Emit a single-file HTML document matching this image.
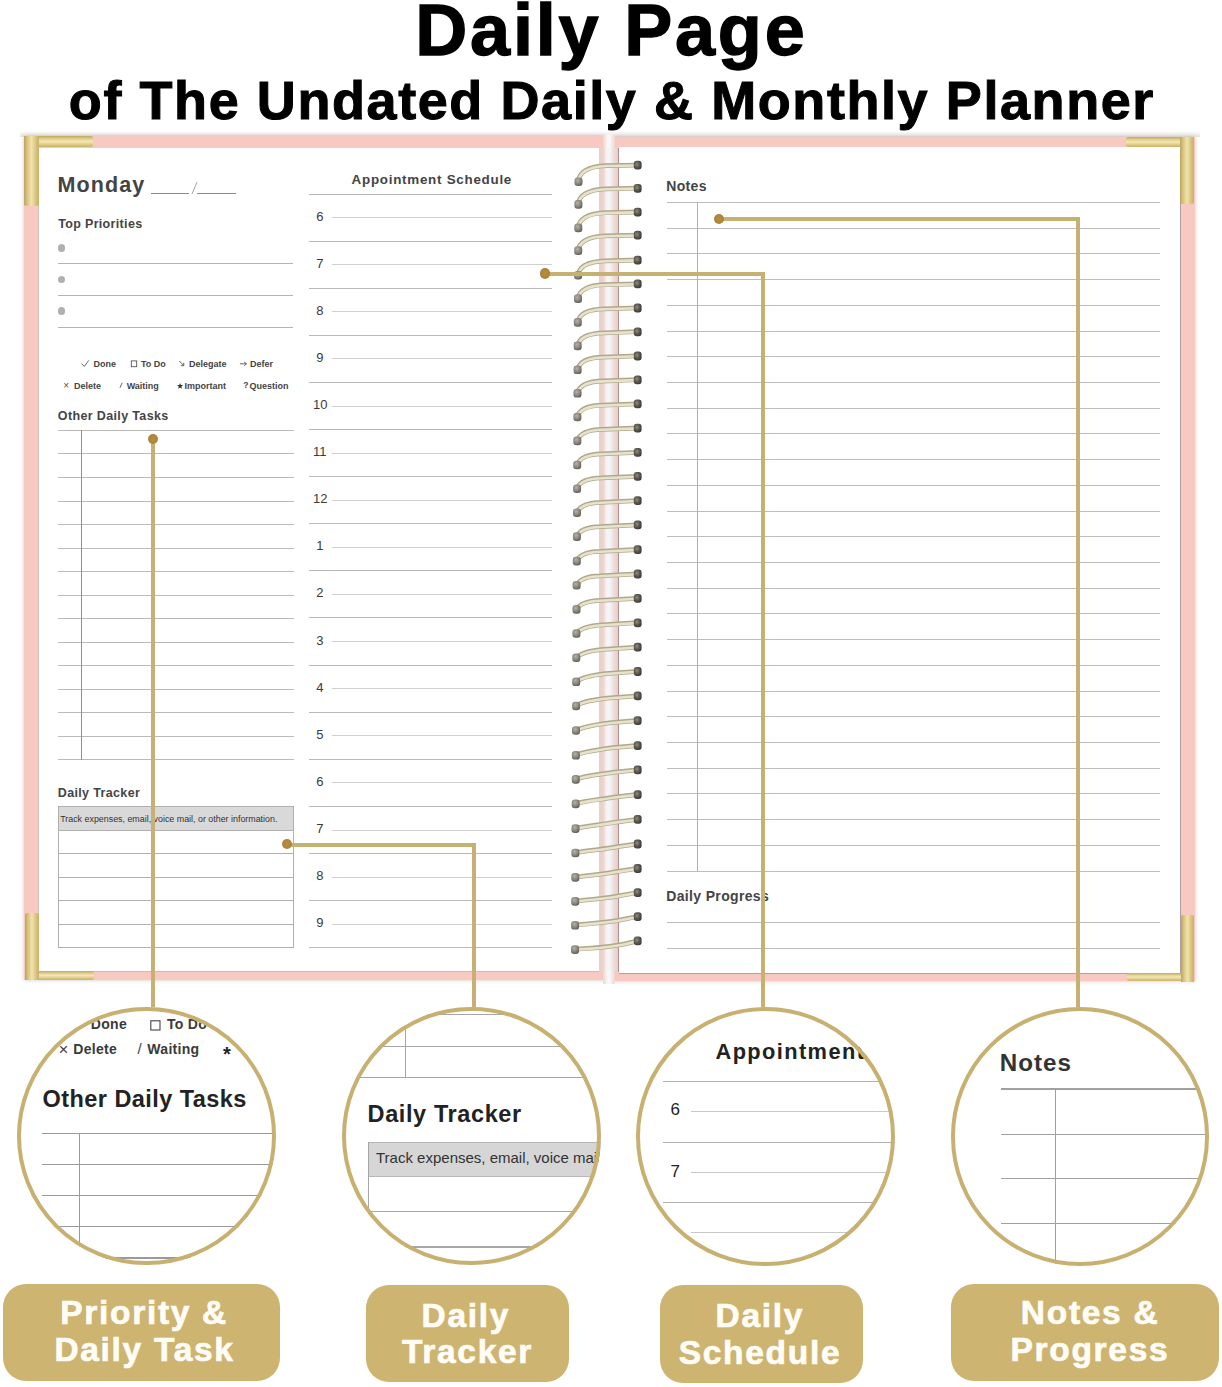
<!DOCTYPE html>
<html><head><meta charset="utf-8">
<style>
html,body{margin:0;padding:0;}
body{width:1222px;height:1387px;position:relative;overflow:hidden;background:#fff;font-family:"Liberation Sans",sans-serif;}
.t{position:absolute;white-space:nowrap;line-height:1.117;}
.r{position:absolute;}
.circ{position:absolute;border-radius:50%;overflow:hidden;background:#fff;box-sizing:border-box;}
.circ .in{position:absolute;left:0;top:0;width:100%;height:100%;}

</style></head><body>
<div class="t" style="left:11.40px;width:1200px;text-align:center;top:-9.66px;font-size:72px;font-weight:bold;color:#000;letter-spacing:2.8px;-webkit-text-stroke:1.3px #000;">Daily Page</div>
<div class="t" style="left:0.90px;width:1222px;text-align:center;top:69.73px;font-size:54px;font-weight:bold;color:#000;letter-spacing:1.58px;-webkit-text-stroke:1px #000;">of The Undated Daily &amp; Monthly Planner</div>
<div class="r" style="left:20.00px;top:131.00px;width:1180.00px;height:6.00px;background:linear-gradient(rgba(230,220,215,0),rgba(215,200,195,0.55));"></div>
<div class="r" style="left:24.00px;top:136.30px;width:580.00px;height:843.70px;background:#f7c9c1;box-shadow:0 0 4px rgba(110,100,90,0.35);"></div>
<div class="r" style="left:613.50px;top:136.80px;width:581.00px;height:844.60px;background:#f7c9c1;box-shadow:0 0 4px rgba(110,100,90,0.35);"></div>
<div class="r" style="left:38.80px;top:147.50px;width:560.50px;height:823.30px;background:#fff;box-shadow:-1px 0 0 #d6c2bc, 0 1px 0 #d0bcb6;"></div>
<div class="r" style="left:619.00px;top:147.20px;width:561.30px;height:825.40px;background:#fff;box-shadow:1px 0 0 #ad9f9a, 0 1px 0 #b0a29d;"></div>
<div class="r" style="left:599.30px;top:147.50px;width:19.20px;height:823.50px;background:linear-gradient(90deg,#e8d0cc 0%,#ecd3ce 22%,#f7f4f4 40%,#f2f5fa 58%,#f0dcd8 78%,#e9ccc8 100%);"></div>
<div class="r" style="left:618.20px;top:147.50px;width:1.00px;height:824.50px;background:#ae908d;"></div>
<div class="r" style="left:603.00px;top:135.00px;width:11.50px;height:12.50px;background:linear-gradient(90deg,#f3d3cc,#fafafa 40%,#f4f6fa 60%,#f3d3cc);"></div>
<div class="r" style="left:603.00px;top:971.00px;width:11.50px;height:13.00px;background:linear-gradient(90deg,#f3d3cc,#fafafa 40%,#f4f6fa 60%,#f3d3cc);"></div>
<div class="t" style="left:57.60px;top:172.84px;font-size:21.5px;font-weight:bold;color:#444;letter-spacing:1.1px;">Monday</div>
<div class="r" style="left:150.60px;top:193.10px;width:38.40px;height:1.00px;background:#8a8a8a;"></div>
<div class="r" style="left:197.40px;top:193.10px;width:38.30px;height:1.00px;background:#8a8a8a;"></div>
<svg class="r" style="left:0;top:0" width="1222" height="400"><line x1="192" y1="194" x2="197" y2="182" stroke="#999" stroke-width="0.9"/></svg>
<div class="t" style="left:58.20px;top:217.69px;font-size:12.5px;font-weight:bold;color:#444;letter-spacing:0.33px;">Top Priorities</div>
<div class="r" style="left:57.50px;top:244.10px;width:7.6px;height:7.6px;border-radius:50%;background:#b0b0b0"></div>
<div class="r" style="left:57.50px;top:275.60px;width:7.6px;height:7.6px;border-radius:50%;background:#b0b0b0"></div>
<div class="r" style="left:57.50px;top:307.20px;width:7.6px;height:7.6px;border-radius:50%;background:#b0b0b0"></div>
<div class="r" style="left:58.00px;top:263.10px;width:235.00px;height:1.00px;background:#b4b4b4;"></div>
<div class="r" style="left:58.00px;top:294.60px;width:235.00px;height:1.00px;background:#b4b4b4;"></div>
<div class="r" style="left:58.00px;top:326.50px;width:235.00px;height:1.00px;background:#b4b4b4;"></div>
<div class="t" style="left:93.40px;top:359.06px;font-size:9px;font-weight:bold;color:#444;">Done</div>
<div class="t" style="left:141.00px;top:359.06px;font-size:9px;font-weight:bold;color:#444;">To Do</div>
<div class="t" style="left:189.00px;top:359.06px;font-size:9px;font-weight:bold;color:#444;">Delegate</div>
<div class="t" style="left:250.00px;top:359.06px;font-size:9px;font-weight:bold;color:#444;">Defer</div>
<div class="t" style="left:74.00px;top:380.56px;font-size:9px;font-weight:bold;color:#444;">Delete</div>
<div class="t" style="left:126.70px;top:380.56px;font-size:9px;font-weight:bold;color:#444;">Waiting</div>
<div class="t" style="left:184.60px;top:380.56px;font-size:9px;font-weight:bold;color:#444;">Important</div>
<div class="t" style="left:249.50px;top:380.56px;font-size:9px;font-weight:bold;color:#444;">Question</div>
<div class="t" style="left:63.20px;top:379.65px;font-size:10px;font-weight:normal;color:#555;">&#215;</div>
<div class="t" style="left:243.30px;top:380.91px;font-size:8.5px;font-weight:bold;color:#444;">?</div>
<svg class="r" style="left:0;top:0" width="320" height="400" fill="none" stroke="#555" stroke-width="0.9"><polyline points="81.6,363.6 84.3,366.4 88.8,360.4"/><rect x="131.3" y="360.9" width="5.4" height="5.8"/><line x1="179.3" y1="361" x2="183.6" y2="365.5"/><polyline points="180.9,365.6 183.8,365.7 183.7,362.8"/><line x1="240" y1="363.8" x2="246.3" y2="363.8"/><polyline points="244.2,361.9 246.5,363.8 244.2,365.7"/><line x1="120" y1="387.8" x2="122.2" y2="382.6"/><polygon points="180.1,382.9 180.9,385.1 183.2,385.1 181.4,386.5 182.1,388.7 180.1,387.4 178.1,388.7 178.8,386.5 177,385.1 179.3,385.1" fill="#333" stroke="none"/></svg>
<div class="t" style="left:57.80px;top:410.09px;font-size:12.5px;font-weight:bold;color:#444;letter-spacing:0.36px;">Other Daily Tasks</div>
<div class="r" style="left:57.60px;top:429.90px;width:236.20px;height:1.00px;background:#bababa;"></div>
<div class="r" style="left:57.60px;top:453.44px;width:236.20px;height:1.00px;background:#bababa;"></div>
<div class="r" style="left:57.60px;top:476.98px;width:236.20px;height:1.00px;background:#bababa;"></div>
<div class="r" style="left:57.60px;top:500.52px;width:236.20px;height:1.00px;background:#bababa;"></div>
<div class="r" style="left:57.60px;top:524.06px;width:236.20px;height:1.00px;background:#bababa;"></div>
<div class="r" style="left:57.60px;top:547.60px;width:236.20px;height:1.00px;background:#bababa;"></div>
<div class="r" style="left:57.60px;top:571.14px;width:236.20px;height:1.00px;background:#bababa;"></div>
<div class="r" style="left:57.60px;top:594.68px;width:236.20px;height:1.00px;background:#bababa;"></div>
<div class="r" style="left:57.60px;top:618.22px;width:236.20px;height:1.00px;background:#bababa;"></div>
<div class="r" style="left:57.60px;top:641.76px;width:236.20px;height:1.00px;background:#bababa;"></div>
<div class="r" style="left:57.60px;top:665.30px;width:236.20px;height:1.00px;background:#bababa;"></div>
<div class="r" style="left:57.60px;top:688.84px;width:236.20px;height:1.00px;background:#bababa;"></div>
<div class="r" style="left:57.60px;top:712.38px;width:236.20px;height:1.00px;background:#bababa;"></div>
<div class="r" style="left:57.60px;top:735.92px;width:236.20px;height:1.00px;background:#bababa;"></div>
<div class="r" style="left:57.60px;top:759.46px;width:236.20px;height:1.00px;background:#bababa;"></div>
<div class="r" style="left:81.00px;top:430.40px;width:1.00px;height:329.60px;background:#8e8e8e;"></div>
<div class="t" style="left:57.80px;top:786.69px;font-size:12.5px;font-weight:bold;color:#444;letter-spacing:0.35px;">Daily Tracker</div>
<div class="r" style="left:57.60px;top:806.30px;width:236.20px;height:141.40px;background:#fff;box-sizing:border-box;border:1px solid #b0b0b0;"></div>
<div class="r" style="left:58.60px;top:807.30px;width:234.20px;height:22.90px;background:#d9d9d9;"></div>
<div class="r" style="left:57.60px;top:829.70px;width:236.20px;height:1.00px;background:#b0b0b0;"></div>
<div class="r" style="left:57.60px;top:853.00px;width:236.20px;height:1.00px;background:#b0b0b0;"></div>
<div class="r" style="left:57.60px;top:876.80px;width:236.20px;height:1.00px;background:#b0b0b0;"></div>
<div class="r" style="left:57.60px;top:900.10px;width:236.20px;height:1.00px;background:#b0b0b0;"></div>
<div class="r" style="left:57.60px;top:923.90px;width:236.20px;height:1.00px;background:#b0b0b0;"></div>
<div class="t" style="left:60.20px;top:815.25px;font-size:8.9px;font-weight:normal;color:#333;">Track expenses, email, voice mail, or other information.</div>
<div class="t" style="left:351.60px;top:172.97px;font-size:13.4px;font-weight:bold;color:#444;letter-spacing:0.73px;">Appointment Schedule</div>
<div class="r" style="left:308.50px;top:193.50px;width:243.50px;height:1.00px;background:#b8b8b8;"></div>
<div class="t" style="left:316.30px;top:209.54px;font-size:13px;font-weight:normal;color:#3a3a3a;">6</div>
<div class="r" style="left:332.00px;top:217.10px;width:220.00px;height:1.00px;background:#d0d0d0;"></div>
<div class="r" style="left:308.50px;top:240.61px;width:243.50px;height:1.00px;background:#bababa;"></div>
<div class="t" style="left:316.30px;top:256.65px;font-size:13px;font-weight:normal;color:#3a3a3a;">7</div>
<div class="r" style="left:332.00px;top:264.21px;width:220.00px;height:1.00px;background:#d0d0d0;"></div>
<div class="r" style="left:308.50px;top:287.72px;width:243.50px;height:1.00px;background:#bababa;"></div>
<div class="t" style="left:316.30px;top:303.76px;font-size:13px;font-weight:normal;color:#3a3a3a;">8</div>
<div class="r" style="left:332.00px;top:311.32px;width:220.00px;height:1.00px;background:#d0d0d0;"></div>
<div class="r" style="left:308.50px;top:334.83px;width:243.50px;height:1.00px;background:#bababa;"></div>
<div class="t" style="left:316.30px;top:350.87px;font-size:13px;font-weight:normal;color:#3a3a3a;">9</div>
<div class="r" style="left:332.00px;top:358.43px;width:220.00px;height:1.00px;background:#d0d0d0;"></div>
<div class="r" style="left:308.50px;top:381.94px;width:243.50px;height:1.00px;background:#bababa;"></div>
<div class="t" style="left:313.00px;top:397.98px;font-size:13px;font-weight:normal;color:#3a3a3a;">10</div>
<div class="r" style="left:332.00px;top:405.54px;width:220.00px;height:1.00px;background:#d0d0d0;"></div>
<div class="r" style="left:308.50px;top:429.05px;width:243.50px;height:1.00px;background:#bababa;"></div>
<div class="t" style="left:313.00px;top:445.09px;font-size:13px;font-weight:normal;color:#3a3a3a;">11</div>
<div class="r" style="left:332.00px;top:452.65px;width:220.00px;height:1.00px;background:#d0d0d0;"></div>
<div class="r" style="left:308.50px;top:476.16px;width:243.50px;height:1.00px;background:#bababa;"></div>
<div class="t" style="left:313.00px;top:492.19px;font-size:13px;font-weight:normal;color:#3a3a3a;">12</div>
<div class="r" style="left:332.00px;top:499.76px;width:220.00px;height:1.00px;background:#d0d0d0;"></div>
<div class="r" style="left:308.50px;top:523.27px;width:243.50px;height:1.00px;background:#bababa;"></div>
<div class="t" style="left:316.30px;top:539.30px;font-size:13px;font-weight:normal;color:#3a3a3a;">1</div>
<div class="r" style="left:332.00px;top:546.87px;width:220.00px;height:1.00px;background:#d0d0d0;"></div>
<div class="r" style="left:308.50px;top:570.38px;width:243.50px;height:1.00px;background:#bababa;"></div>
<div class="t" style="left:316.30px;top:586.41px;font-size:13px;font-weight:normal;color:#3a3a3a;">2</div>
<div class="r" style="left:332.00px;top:593.98px;width:220.00px;height:1.00px;background:#d0d0d0;"></div>
<div class="r" style="left:308.50px;top:617.49px;width:243.50px;height:1.00px;background:#bababa;"></div>
<div class="t" style="left:316.30px;top:633.52px;font-size:13px;font-weight:normal;color:#3a3a3a;">3</div>
<div class="r" style="left:332.00px;top:641.09px;width:220.00px;height:1.00px;background:#d0d0d0;"></div>
<div class="r" style="left:308.50px;top:664.60px;width:243.50px;height:1.00px;background:#bababa;"></div>
<div class="t" style="left:316.30px;top:680.63px;font-size:13px;font-weight:normal;color:#3a3a3a;">4</div>
<div class="r" style="left:332.00px;top:688.20px;width:220.00px;height:1.00px;background:#d0d0d0;"></div>
<div class="r" style="left:308.50px;top:711.71px;width:243.50px;height:1.00px;background:#bababa;"></div>
<div class="t" style="left:316.30px;top:727.75px;font-size:13px;font-weight:normal;color:#3a3a3a;">5</div>
<div class="r" style="left:332.00px;top:735.31px;width:220.00px;height:1.00px;background:#d0d0d0;"></div>
<div class="r" style="left:308.50px;top:758.82px;width:243.50px;height:1.00px;background:#bababa;"></div>
<div class="t" style="left:316.30px;top:774.85px;font-size:13px;font-weight:normal;color:#3a3a3a;">6</div>
<div class="r" style="left:332.00px;top:782.42px;width:220.00px;height:1.00px;background:#d0d0d0;"></div>
<div class="r" style="left:308.50px;top:805.93px;width:243.50px;height:1.00px;background:#bababa;"></div>
<div class="t" style="left:316.30px;top:821.96px;font-size:13px;font-weight:normal;color:#3a3a3a;">7</div>
<div class="r" style="left:332.00px;top:829.53px;width:220.00px;height:1.00px;background:#d0d0d0;"></div>
<div class="r" style="left:308.50px;top:853.04px;width:243.50px;height:1.00px;background:#bababa;"></div>
<div class="t" style="left:316.30px;top:869.07px;font-size:13px;font-weight:normal;color:#3a3a3a;">8</div>
<div class="r" style="left:332.00px;top:876.64px;width:220.00px;height:1.00px;background:#d0d0d0;"></div>
<div class="r" style="left:308.50px;top:900.15px;width:243.50px;height:1.00px;background:#bababa;"></div>
<div class="t" style="left:316.30px;top:916.18px;font-size:13px;font-weight:normal;color:#3a3a3a;">9</div>
<div class="r" style="left:332.00px;top:923.75px;width:220.00px;height:1.00px;background:#d0d0d0;"></div>
<div class="r" style="left:308.50px;top:947.26px;width:243.50px;height:1.00px;background:#bababa;"></div>
<div class="t" style="left:666.20px;top:179.43px;font-size:14px;font-weight:bold;color:#444;letter-spacing:0.35px;">Notes</div>
<div class="r" style="left:666.70px;top:201.90px;width:493.30px;height:1.00px;background:#bdbdbd;"></div>
<div class="r" style="left:666.70px;top:227.62px;width:493.30px;height:1.00px;background:#bdbdbd;"></div>
<div class="r" style="left:666.70px;top:253.34px;width:493.30px;height:1.00px;background:#bdbdbd;"></div>
<div class="r" style="left:666.70px;top:279.06px;width:493.30px;height:1.00px;background:#bdbdbd;"></div>
<div class="r" style="left:666.70px;top:304.78px;width:493.30px;height:1.00px;background:#bdbdbd;"></div>
<div class="r" style="left:666.70px;top:330.50px;width:493.30px;height:1.00px;background:#bdbdbd;"></div>
<div class="r" style="left:666.70px;top:356.22px;width:493.30px;height:1.00px;background:#bdbdbd;"></div>
<div class="r" style="left:666.70px;top:381.94px;width:493.30px;height:1.00px;background:#bdbdbd;"></div>
<div class="r" style="left:666.70px;top:407.66px;width:493.30px;height:1.00px;background:#bdbdbd;"></div>
<div class="r" style="left:666.70px;top:433.38px;width:493.30px;height:1.00px;background:#bdbdbd;"></div>
<div class="r" style="left:666.70px;top:459.10px;width:493.30px;height:1.00px;background:#bdbdbd;"></div>
<div class="r" style="left:666.70px;top:484.82px;width:493.30px;height:1.00px;background:#bdbdbd;"></div>
<div class="r" style="left:666.70px;top:510.54px;width:493.30px;height:1.00px;background:#bdbdbd;"></div>
<div class="r" style="left:666.70px;top:536.26px;width:493.30px;height:1.00px;background:#bdbdbd;"></div>
<div class="r" style="left:666.70px;top:561.98px;width:493.30px;height:1.00px;background:#bdbdbd;"></div>
<div class="r" style="left:666.70px;top:587.70px;width:493.30px;height:1.00px;background:#bdbdbd;"></div>
<div class="r" style="left:666.70px;top:613.42px;width:493.30px;height:1.00px;background:#bdbdbd;"></div>
<div class="r" style="left:666.70px;top:639.14px;width:493.30px;height:1.00px;background:#bdbdbd;"></div>
<div class="r" style="left:666.70px;top:664.86px;width:493.30px;height:1.00px;background:#bdbdbd;"></div>
<div class="r" style="left:666.70px;top:690.58px;width:493.30px;height:1.00px;background:#bdbdbd;"></div>
<div class="r" style="left:666.70px;top:716.30px;width:493.30px;height:1.00px;background:#bdbdbd;"></div>
<div class="r" style="left:666.70px;top:742.02px;width:493.30px;height:1.00px;background:#bdbdbd;"></div>
<div class="r" style="left:666.70px;top:767.74px;width:493.30px;height:1.00px;background:#bdbdbd;"></div>
<div class="r" style="left:666.70px;top:793.46px;width:493.30px;height:1.00px;background:#bdbdbd;"></div>
<div class="r" style="left:666.70px;top:819.18px;width:493.30px;height:1.00px;background:#bdbdbd;"></div>
<div class="r" style="left:666.70px;top:844.90px;width:493.30px;height:1.00px;background:#bdbdbd;"></div>
<div class="r" style="left:666.70px;top:870.62px;width:493.30px;height:1.00px;background:#bdbdbd;"></div>
<div class="r" style="left:697.40px;top:202.40px;width:1.00px;height:668.70px;background:#b0b0b0;"></div>
<div class="t" style="left:666.20px;top:889.33px;font-size:14px;font-weight:bold;color:#444;letter-spacing:0.35px;">Daily Progress</div>
<div class="r" style="left:666.70px;top:921.90px;width:493.30px;height:1.00px;background:#bdbdbd;"></div>
<div class="r" style="left:666.70px;top:948.10px;width:493.30px;height:1.00px;background:#bdbdbd;"></div>
<div class="r" style="left:24.00px;top:136.30px;width:69.00px;height:11.00px;background:linear-gradient(180deg,#c0a862 0%,#e0cd8c 25%,#f3e8b4 50%,#dcc681 80%,#c9b26b 100%);border-radius:0 2px 2px 0;"></div>
<div class="r" style="left:24.00px;top:136.30px;width:14.50px;height:69.70px;background:linear-gradient(90deg,#bca462 0%,#dcc886 25%,#f0e4ac 50%,#d9c27c 80%,#c8b06a 100%);border-radius:0 0 2px 2px;"></div>
<div class="r" style="left:1125.50px;top:137.20px;width:68.80px;height:10.00px;background:linear-gradient(180deg,#c0a862 0%,#e0cd8c 25%,#f3e8b4 50%,#dcc681 80%,#c9b26b 100%);border-radius:2px 0 0 2px;"></div>
<div class="r" style="left:1180.30px;top:137.20px;width:14.00px;height:67.30px;background:linear-gradient(90deg,#bca462 0%,#dcc886 25%,#f0e4ac 50%,#d9c27c 80%,#c8b06a 100%);border-radius:0 0 2px 2px;"></div>
<div class="r" style="left:25.00px;top:971.00px;width:69.30px;height:9.00px;background:linear-gradient(180deg,#c0a862 0%,#e0cd8c 25%,#f3e8b4 50%,#dcc681 80%,#c9b26b 100%);border-radius:0 2px 2px 0;"></div>
<div class="r" style="left:25.00px;top:913.00px;width:13.50px;height:67.00px;background:linear-gradient(90deg,#bca462 0%,#dcc886 25%,#f0e4ac 50%,#d9c27c 80%,#c8b06a 100%);border-radius:2px 2px 0 0;"></div>
<div class="r" style="left:1126.50px;top:972.70px;width:67.80px;height:8.80px;background:linear-gradient(180deg,#c0a862 0%,#e0cd8c 25%,#f3e8b4 50%,#dcc681 80%,#c9b26b 100%);border-radius:2px 0 0 2px;"></div>
<div class="r" style="left:1181.00px;top:915.00px;width:13.30px;height:66.50px;background:linear-gradient(90deg,#bca462 0%,#dcc886 25%,#f0e4ac 50%,#d9c27c 80%,#c8b06a 100%);border-radius:2px 2px 0 0;"></div>
<svg class="r" style="left:0;top:0" width="1222" height="1000"><defs><radialGradient id="kn" cx="0.4" cy="0.4" r="0.7"><stop offset="0" stop-color="#8f8c7f"/><stop offset="0.5" stop-color="#5a574f"/><stop offset="1" stop-color="#34322d"/></radialGradient><radialGradient id="kl" cx="0.4" cy="0.35" r="0.75"><stop offset="0" stop-color="#b3b1a8"/><stop offset="0.55" stop-color="#86847b"/><stop offset="1" stop-color="#55534c"/></radialGradient></defs><path d="M578.5,181.6 C578.5,173.6 586.5,166.1 606.5,165.6 L637.5,165.1" fill="none" stroke="#b1a88a" stroke-width="4.8" stroke-linecap="round"/><path d="M578.5,181.6 C578.5,173.6 586.5,166.1 606.5,165.6 L637.5,165.1" fill="none" stroke="#e8e2cd" stroke-width="2.6" stroke-linecap="round" transform="translate(0,0.4)"/><rect x="633.8" y="160.8" width="7.8" height="8.8" rx="3" fill="url(#kn)"/><rect x="574.5" y="177.4" width="8" height="8.6" rx="3.2" fill="url(#kl)"/><path d="M578.4,204.3 C578.6,196.5 586.6,189.3 606.1,188.8 L637.5,188.2" fill="none" stroke="#b1a88a" stroke-width="4.8" stroke-linecap="round"/><path d="M578.4,204.3 C578.6,196.5 586.6,189.3 606.1,188.8 L637.5,188.2" fill="none" stroke="#e8e2cd" stroke-width="2.6" stroke-linecap="round" transform="translate(0,0.4)"/><rect x="633.8" y="183.9" width="7.8" height="8.8" rx="3" fill="url(#kn)"/><rect x="574.4" y="200.1" width="8" height="8.6" rx="3.2" fill="url(#kl)"/><path d="M578.3,227.8 C578.6,220.0 586.6,213.1 605.7,212.7 L637.5,212.0" fill="none" stroke="#b1a88a" stroke-width="4.8" stroke-linecap="round"/><path d="M578.3,227.8 C578.6,220.0 586.6,213.1 605.7,212.7 L637.5,212.0" fill="none" stroke="#e8e2cd" stroke-width="2.6" stroke-linecap="round" transform="translate(0,0.4)"/><rect x="633.8" y="207.7" width="7.8" height="8.8" rx="3" fill="url(#kn)"/><rect x="574.3" y="223.6" width="8" height="8.6" rx="3.2" fill="url(#kl)"/><path d="M578.2,250.5 C578.7,242.9 586.7,236.3 605.3,235.9 L637.5,235.1" fill="none" stroke="#b1a88a" stroke-width="4.8" stroke-linecap="round"/><path d="M578.2,250.5 C578.7,242.9 586.7,236.3 605.3,235.9 L637.5,235.1" fill="none" stroke="#e8e2cd" stroke-width="2.6" stroke-linecap="round" transform="translate(0,0.4)"/><rect x="633.8" y="230.8" width="7.8" height="8.8" rx="3" fill="url(#kn)"/><rect x="574.2" y="246.3" width="8" height="8.6" rx="3.2" fill="url(#kl)"/><path d="M578.1,275.1 C578.7,267.5 586.7,261.3 604.9,260.8 L637.5,260.0" fill="none" stroke="#b1a88a" stroke-width="4.8" stroke-linecap="round"/><path d="M578.1,275.1 C578.7,267.5 586.7,261.3 604.9,260.8 L637.5,260.0" fill="none" stroke="#e8e2cd" stroke-width="2.6" stroke-linecap="round" transform="translate(0,0.4)"/><rect x="633.8" y="255.7" width="7.8" height="8.8" rx="3" fill="url(#kn)"/><rect x="574.1" y="270.9" width="8" height="8.6" rx="3.2" fill="url(#kl)"/><path d="M578.0,298.5 C578.8,291.1 586.8,285.1 604.5,284.7 L637.5,283.8" fill="none" stroke="#b1a88a" stroke-width="4.8" stroke-linecap="round"/><path d="M578.0,298.5 C578.8,291.1 586.8,285.1 604.5,284.7 L637.5,283.8" fill="none" stroke="#e8e2cd" stroke-width="2.6" stroke-linecap="round" transform="translate(0,0.4)"/><rect x="633.8" y="279.5" width="7.8" height="8.8" rx="3" fill="url(#kn)"/><rect x="574.0" y="294.3" width="8" height="8.6" rx="3.2" fill="url(#kl)"/><path d="M577.8,322.3 C578.9,315.0 586.9,309.3 604.1,308.9 L637.5,307.9" fill="none" stroke="#b1a88a" stroke-width="4.8" stroke-linecap="round"/><path d="M577.8,322.3 C578.9,315.0 586.9,309.3 604.1,308.9 L637.5,307.9" fill="none" stroke="#e8e2cd" stroke-width="2.6" stroke-linecap="round" transform="translate(0,0.4)"/><rect x="633.8" y="303.6" width="7.8" height="8.8" rx="3" fill="url(#kn)"/><rect x="573.8" y="318.1" width="8" height="8.6" rx="3.2" fill="url(#kl)"/><path d="M577.7,345.8 C578.9,338.6 586.9,333.2 603.7,332.8 L637.5,331.7" fill="none" stroke="#b1a88a" stroke-width="4.8" stroke-linecap="round"/><path d="M577.7,345.8 C578.9,338.6 586.9,333.2 603.7,332.8 L637.5,331.7" fill="none" stroke="#e8e2cd" stroke-width="2.6" stroke-linecap="round" transform="translate(0,0.4)"/><rect x="633.8" y="327.4" width="7.8" height="8.8" rx="3" fill="url(#kn)"/><rect x="573.7" y="341.6" width="8" height="8.6" rx="3.2" fill="url(#kl)"/><path d="M577.6,369.7 C579.0,362.6 587.0,357.4 603.4,357.1 L637.5,355.9" fill="none" stroke="#b1a88a" stroke-width="4.8" stroke-linecap="round"/><path d="M577.6,369.7 C579.0,362.6 587.0,357.4 603.4,357.1 L637.5,355.9" fill="none" stroke="#e8e2cd" stroke-width="2.6" stroke-linecap="round" transform="translate(0,0.4)"/><rect x="633.8" y="351.6" width="7.8" height="8.8" rx="3" fill="url(#kn)"/><rect x="573.6" y="365.5" width="8" height="8.6" rx="3.2" fill="url(#kl)"/><path d="M577.5,393.2 C579.0,386.2 587.0,381.3 603.0,381.0 L637.5,379.7" fill="none" stroke="#b1a88a" stroke-width="4.8" stroke-linecap="round"/><path d="M577.5,393.2 C579.0,386.2 587.0,381.3 603.0,381.0 L637.5,379.7" fill="none" stroke="#e8e2cd" stroke-width="2.6" stroke-linecap="round" transform="translate(0,0.4)"/><rect x="633.8" y="375.4" width="7.8" height="8.8" rx="3" fill="url(#kn)"/><rect x="573.5" y="389.0" width="8" height="8.6" rx="3.2" fill="url(#kl)"/><path d="M577.4,416.9 C579.1,410.1 587.1,405.5 602.6,405.2 L637.5,403.8" fill="none" stroke="#b1a88a" stroke-width="4.8" stroke-linecap="round"/><path d="M577.4,416.9 C579.1,410.1 587.1,405.5 602.6,405.2 L637.5,403.8" fill="none" stroke="#e8e2cd" stroke-width="2.6" stroke-linecap="round" transform="translate(0,0.4)"/><rect x="633.8" y="399.5" width="7.8" height="8.8" rx="3" fill="url(#kn)"/><rect x="573.4" y="412.7" width="8" height="8.6" rx="3.2" fill="url(#kl)"/><path d="M577.3,440.8 C579.2,434.1 587.2,429.8 602.2,429.4 L637.5,428.0" fill="none" stroke="#b1a88a" stroke-width="4.8" stroke-linecap="round"/><path d="M577.3,440.8 C579.2,434.1 587.2,429.8 602.2,429.4 L637.5,428.0" fill="none" stroke="#e8e2cd" stroke-width="2.6" stroke-linecap="round" transform="translate(0,0.4)"/><rect x="633.8" y="423.7" width="7.8" height="8.8" rx="3" fill="url(#kn)"/><rect x="573.3" y="436.6" width="8" height="8.6" rx="3.2" fill="url(#kl)"/><path d="M577.2,464.9 C579.2,458.2 587.2,454.1 601.8,453.8 L637.5,452.3" fill="none" stroke="#b1a88a" stroke-width="4.8" stroke-linecap="round"/><path d="M577.2,464.9 C579.2,458.2 587.2,454.1 601.8,453.8 L637.5,452.3" fill="none" stroke="#e8e2cd" stroke-width="2.6" stroke-linecap="round" transform="translate(0,0.4)"/><rect x="633.8" y="448.0" width="7.8" height="8.8" rx="3" fill="url(#kn)"/><rect x="573.2" y="460.7" width="8" height="8.6" rx="3.2" fill="url(#kl)"/><path d="M577.1,488.6 C579.3,482.0 587.3,478.2 601.4,477.9 L637.5,476.3" fill="none" stroke="#b1a88a" stroke-width="4.8" stroke-linecap="round"/><path d="M577.1,488.6 C579.3,482.0 587.3,478.2 601.4,477.9 L637.5,476.3" fill="none" stroke="#e8e2cd" stroke-width="2.6" stroke-linecap="round" transform="translate(0,0.4)"/><rect x="633.8" y="472.0" width="7.8" height="8.8" rx="3" fill="url(#kn)"/><rect x="573.1" y="484.4" width="8" height="8.6" rx="3.2" fill="url(#kl)"/><path d="M577.0,512.6 C579.4,506.2 587.4,502.6 601.0,502.3 L637.5,500.6" fill="none" stroke="#b1a88a" stroke-width="4.8" stroke-linecap="round"/><path d="M577.0,512.6 C579.4,506.2 587.4,502.6 601.0,502.3 L637.5,500.6" fill="none" stroke="#e8e2cd" stroke-width="2.6" stroke-linecap="round" transform="translate(0,0.4)"/><rect x="633.8" y="496.3" width="7.8" height="8.8" rx="3" fill="url(#kn)"/><rect x="573.0" y="508.4" width="8" height="8.6" rx="3.2" fill="url(#kl)"/><path d="M576.9,536.5 C579.4,530.2 587.4,526.8 600.6,526.6 L637.5,524.8" fill="none" stroke="#b1a88a" stroke-width="4.8" stroke-linecap="round"/><path d="M576.9,536.5 C579.4,530.2 587.4,526.8 600.6,526.6 L637.5,524.8" fill="none" stroke="#e8e2cd" stroke-width="2.6" stroke-linecap="round" transform="translate(0,0.4)"/><rect x="633.8" y="520.5" width="7.8" height="8.8" rx="3" fill="url(#kn)"/><rect x="572.9" y="532.3" width="8" height="8.6" rx="3.2" fill="url(#kl)"/><path d="M576.8,561.0 C579.5,554.8 587.5,551.6 600.2,551.4 L637.5,549.5" fill="none" stroke="#b1a88a" stroke-width="4.8" stroke-linecap="round"/><path d="M576.8,561.0 C579.5,554.8 587.5,551.6 600.2,551.4 L637.5,549.5" fill="none" stroke="#e8e2cd" stroke-width="2.6" stroke-linecap="round" transform="translate(0,0.4)"/><rect x="633.8" y="545.2" width="7.8" height="8.8" rx="3" fill="url(#kn)"/><rect x="572.8" y="556.8" width="8" height="8.6" rx="3.2" fill="url(#kl)"/><path d="M576.6,585.1 C579.5,579.0 587.5,576.1 599.8,575.8 L637.5,573.9" fill="none" stroke="#b1a88a" stroke-width="4.8" stroke-linecap="round"/><path d="M576.6,585.1 C579.5,579.0 587.5,576.1 599.8,575.8 L637.5,573.9" fill="none" stroke="#e8e2cd" stroke-width="2.6" stroke-linecap="round" transform="translate(0,0.4)"/><rect x="633.8" y="569.6" width="7.8" height="8.8" rx="3" fill="url(#kn)"/><rect x="572.6" y="580.9" width="8" height="8.6" rx="3.2" fill="url(#kl)"/><path d="M576.5,609.3 C579.9,603.4 588.2,600.7 600.3,600.3 L637.5,598.3" fill="none" stroke="#b1a88a" stroke-width="4.8" stroke-linecap="round"/><path d="M576.5,609.3 C579.9,603.4 588.2,600.7 600.3,600.3 L637.5,598.3" fill="none" stroke="#e8e2cd" stroke-width="2.6" stroke-linecap="round" transform="translate(0,0.4)"/><rect x="633.8" y="594.0" width="7.8" height="8.8" rx="3" fill="url(#kn)"/><rect x="572.5" y="605.1" width="8" height="8.6" rx="3.2" fill="url(#kl)"/><path d="M576.4,633.4 C580.7,627.9 589.7,625.5 602.0,624.8 L637.5,622.7" fill="none" stroke="#b1a88a" stroke-width="4.8" stroke-linecap="round"/><path d="M576.4,633.4 C580.7,627.9 589.7,625.5 602.0,624.8 L637.5,622.7" fill="none" stroke="#e8e2cd" stroke-width="2.6" stroke-linecap="round" transform="translate(0,0.4)"/><rect x="633.8" y="618.4" width="7.8" height="8.8" rx="3" fill="url(#kn)"/><rect x="572.4" y="629.2" width="8" height="8.6" rx="3.2" fill="url(#kl)"/><path d="M576.3,657.6 C581.5,652.3 591.1,650.3 603.8,649.3 L637.5,647.1" fill="none" stroke="#b1a88a" stroke-width="4.8" stroke-linecap="round"/><path d="M576.3,657.6 C581.5,652.3 591.1,650.3 603.8,649.3 L637.5,647.1" fill="none" stroke="#e8e2cd" stroke-width="2.6" stroke-linecap="round" transform="translate(0,0.4)"/><rect x="633.8" y="642.8" width="7.8" height="8.8" rx="3" fill="url(#kn)"/><rect x="572.3" y="653.4" width="8" height="8.6" rx="3.2" fill="url(#kl)"/><path d="M576.2,681.7 C582.3,676.7 592.6,675.0 605.6,673.6 L637.5,671.4" fill="none" stroke="#b1a88a" stroke-width="4.8" stroke-linecap="round"/><path d="M576.2,681.7 C582.3,676.7 592.6,675.0 605.6,673.6 L637.5,671.4" fill="none" stroke="#e8e2cd" stroke-width="2.6" stroke-linecap="round" transform="translate(0,0.4)"/><rect x="633.8" y="667.1" width="7.8" height="8.8" rx="3" fill="url(#kn)"/><rect x="572.2" y="677.5" width="8" height="8.6" rx="3.2" fill="url(#kl)"/><path d="M576.1,705.9 C583.1,701.2 594.1,699.8 607.3,698.1 L637.5,695.8" fill="none" stroke="#b1a88a" stroke-width="4.8" stroke-linecap="round"/><path d="M576.1,705.9 C583.1,701.2 594.1,699.8 607.3,698.1 L637.5,695.8" fill="none" stroke="#e8e2cd" stroke-width="2.6" stroke-linecap="round" transform="translate(0,0.4)"/><rect x="633.8" y="691.5" width="7.8" height="8.8" rx="3" fill="url(#kn)"/><rect x="572.1" y="701.7" width="8" height="8.6" rx="3.2" fill="url(#kl)"/><path d="M576.0,730.4 C583.9,726.1 595.6,724.8 609.1,722.9 L637.5,720.5" fill="none" stroke="#b1a88a" stroke-width="4.8" stroke-linecap="round"/><path d="M576.0,730.4 C583.9,726.1 595.6,724.8 609.1,722.9 L637.5,720.5" fill="none" stroke="#e8e2cd" stroke-width="2.6" stroke-linecap="round" transform="translate(0,0.4)"/><rect x="633.8" y="716.2" width="7.8" height="8.8" rx="3" fill="url(#kn)"/><rect x="572.0" y="726.2" width="8" height="8.6" rx="3.2" fill="url(#kl)"/><path d="M575.9,755.2 C584.7,751.2 597.1,750.1 610.9,747.9 L637.5,745.5" fill="none" stroke="#b1a88a" stroke-width="4.8" stroke-linecap="round"/><path d="M575.9,755.2 C584.7,751.2 597.1,750.1 610.9,747.9 L637.5,745.5" fill="none" stroke="#e8e2cd" stroke-width="2.6" stroke-linecap="round" transform="translate(0,0.4)"/><rect x="633.8" y="741.2" width="7.8" height="8.8" rx="3" fill="url(#kn)"/><rect x="571.9" y="751.0" width="8" height="8.6" rx="3.2" fill="url(#kl)"/><path d="M575.8,779.3 C585.4,775.6 598.6,774.7 612.6,772.3 L637.5,769.8" fill="none" stroke="#b1a88a" stroke-width="4.8" stroke-linecap="round"/><path d="M575.8,779.3 C585.4,775.6 598.6,774.7 612.6,772.3 L637.5,769.8" fill="none" stroke="#e8e2cd" stroke-width="2.6" stroke-linecap="round" transform="translate(0,0.4)"/><rect x="633.8" y="765.5" width="7.8" height="8.8" rx="3" fill="url(#kn)"/><rect x="571.8" y="775.1" width="8" height="8.6" rx="3.2" fill="url(#kl)"/><path d="M575.7,803.8 C586.2,800.5 600.1,799.7 614.4,797.1 L637.5,794.5" fill="none" stroke="#b1a88a" stroke-width="4.8" stroke-linecap="round"/><path d="M575.7,803.8 C586.2,800.5 600.1,799.7 614.4,797.1 L637.5,794.5" fill="none" stroke="#e8e2cd" stroke-width="2.6" stroke-linecap="round" transform="translate(0,0.4)"/><rect x="633.8" y="790.2" width="7.8" height="8.8" rx="3" fill="url(#kn)"/><rect x="571.7" y="799.6" width="8" height="8.6" rx="3.2" fill="url(#kl)"/><path d="M575.5,828.5 C587.0,825.4 601.6,824.8 616.2,822.0 L637.5,819.3" fill="none" stroke="#b1a88a" stroke-width="4.8" stroke-linecap="round"/><path d="M575.5,828.5 C587.0,825.4 601.6,824.8 616.2,822.0 L637.5,819.3" fill="none" stroke="#e8e2cd" stroke-width="2.6" stroke-linecap="round" transform="translate(0,0.4)"/><rect x="633.8" y="815.0" width="7.8" height="8.8" rx="3" fill="url(#kn)"/><rect x="571.5" y="824.3" width="8" height="8.6" rx="3.2" fill="url(#kl)"/><path d="M575.4,852.9 C587.8,850.2 603.0,849.6 617.9,846.6 L637.5,843.9" fill="none" stroke="#b1a88a" stroke-width="4.8" stroke-linecap="round"/><path d="M575.4,852.9 C587.8,850.2 603.0,849.6 617.9,846.6 L637.5,843.9" fill="none" stroke="#e8e2cd" stroke-width="2.6" stroke-linecap="round" transform="translate(0,0.4)"/><rect x="633.8" y="839.6" width="7.8" height="8.8" rx="3" fill="url(#kn)"/><rect x="571.4" y="848.7" width="8" height="8.6" rx="3.2" fill="url(#kl)"/><path d="M575.3,877.3 C588.6,874.9 604.5,874.3 619.7,871.2 L637.5,868.4" fill="none" stroke="#b1a88a" stroke-width="4.8" stroke-linecap="round"/><path d="M575.3,877.3 C588.6,874.9 604.5,874.3 619.7,871.2 L637.5,868.4" fill="none" stroke="#e8e2cd" stroke-width="2.6" stroke-linecap="round" transform="translate(0,0.4)"/><rect x="633.8" y="864.1" width="7.8" height="8.8" rx="3" fill="url(#kn)"/><rect x="571.3" y="873.1" width="8" height="8.6" rx="3.2" fill="url(#kl)"/><path d="M575.2,901.3 C589.4,899.2 606.0,898.7 621.5,895.4 L637.5,892.5" fill="none" stroke="#b1a88a" stroke-width="4.8" stroke-linecap="round"/><path d="M575.2,901.3 C589.4,899.2 606.0,898.7 621.5,895.4 L637.5,892.5" fill="none" stroke="#e8e2cd" stroke-width="2.6" stroke-linecap="round" transform="translate(0,0.4)"/><rect x="633.8" y="888.2" width="7.8" height="8.8" rx="3" fill="url(#kn)"/><rect x="571.2" y="897.1" width="8" height="8.6" rx="3.2" fill="url(#kl)"/><path d="M575.1,925.2 C590.2,923.4 607.5,922.9 623.2,919.4 L637.5,916.5" fill="none" stroke="#b1a88a" stroke-width="4.8" stroke-linecap="round"/><path d="M575.1,925.2 C590.2,923.4 607.5,922.9 623.2,919.4 L637.5,916.5" fill="none" stroke="#e8e2cd" stroke-width="2.6" stroke-linecap="round" transform="translate(0,0.4)"/><rect x="633.8" y="912.2" width="7.8" height="8.8" rx="3" fill="url(#kn)"/><rect x="571.1" y="921.0" width="8" height="8.6" rx="3.2" fill="url(#kl)"/><path d="M575.0,949.5 C591.0,948.0 609.0,947.5 625.0,943.8 L637.5,940.8" fill="none" stroke="#b1a88a" stroke-width="4.8" stroke-linecap="round"/><path d="M575.0,949.5 C591.0,948.0 609.0,947.5 625.0,943.8 L637.5,940.8" fill="none" stroke="#e8e2cd" stroke-width="2.6" stroke-linecap="round" transform="translate(0,0.4)"/><rect x="633.8" y="936.5" width="7.8" height="8.8" rx="3" fill="url(#kn)"/><rect x="571.0" y="945.3" width="8" height="8.6" rx="3.2" fill="url(#kl)"/></svg>
<div class="r" style="left:150.90px;top:439.00px;width:3.80px;height:569.00px;background:#c6b173;"></div>
<div class="r" style="left:287.00px;top:842.90px;width:188.90px;height:3.80px;background:#c6b173;"></div>
<div class="r" style="left:472.10px;top:842.90px;width:3.80px;height:165.10px;background:#c6b173;"></div>
<div class="r" style="left:545.00px;top:271.80px;width:220.10px;height:3.80px;background:#c6b173;"></div>
<div class="r" style="left:761.30px;top:271.80px;width:3.80px;height:736.20px;background:#c6b173;"></div>
<div class="r" style="left:719.00px;top:217.10px;width:360.70px;height:3.80px;background:#c6b173;"></div>
<div class="r" style="left:1075.90px;top:217.10px;width:3.80px;height:790.90px;background:#c6b173;"></div>
<div class="r" style="left:148.00px;top:434.00px;width:10.4px;height:10.4px;border-radius:50%;background:radial-gradient(circle,#b98f3e,#a47d37)"></div>
<div class="r" style="left:281.50px;top:839.10px;width:10.4px;height:10.4px;border-radius:50%;background:radial-gradient(circle,#b98f3e,#a47d37)"></div>
<div class="r" style="left:540.00px;top:268.30px;width:10.4px;height:10.4px;border-radius:50%;background:radial-gradient(circle,#b98f3e,#a47d37)"></div>
<div class="r" style="left:713.80px;top:213.80px;width:10.4px;height:10.4px;border-radius:50%;background:radial-gradient(circle,#b98f3e,#a47d37)"></div>
<div class="circ" style="left:17.40px;top:1006.80px;width:258.6px;height:258.6px;">
<div class="in" style="left:-17.40px;top:-1006.80px;width:1222px;height:1387px;">
<div class="t" style="left:90.80px;top:1017.33px;font-size:14px;font-weight:bold;color:#3a3a3a;letter-spacing:0.3px;">Done</div>
<svg class="r" style="left:0;top:0" width="300" height="1100"><rect x="150.8" y="1020.8" width="9.2" height="9.2" fill="none" stroke="#444" stroke-width="1.1"/></svg><div class="t" style="left:167.00px;top:1017.33px;font-size:14px;font-weight:bold;color:#3a3a3a;letter-spacing:0.3px;">To Do</div>
<div class="t" style="left:58.50px;top:1039.62px;font-size:17px;font-weight:normal;color:#444;">&#215;</div>
<div class="t" style="left:73.30px;top:1042.33px;font-size:14px;font-weight:bold;color:#3a3a3a;letter-spacing:0.3px;">Delete</div>
<div class="t" style="left:137.50px;top:1041.42px;font-size:15px;font-weight:normal;color:#444;">/</div>
<div class="t" style="left:147.30px;top:1042.33px;font-size:14px;font-weight:bold;color:#3a3a3a;letter-spacing:0.3px;">Waiting</div>
<div class="t" style="left:223.00px;top:1042.90px;font-size:20px;font-weight:bold;color:#222;">*</div>
<div class="t" style="left:42.60px;top:1086.13px;font-size:23.5px;font-weight:bold;color:#222;letter-spacing:0.43px;">Other Daily Tasks</div>
<div class="r" style="left:42.20px;top:1133.00px;width:257.80px;height:1.20px;background:#9a9a9a;"></div>
<div class="r" style="left:42.20px;top:1164.20px;width:257.80px;height:1.20px;background:#9a9a9a;"></div>
<div class="r" style="left:42.20px;top:1195.10px;width:257.80px;height:1.20px;background:#9a9a9a;"></div>
<div class="r" style="left:42.20px;top:1226.30px;width:257.80px;height:1.20px;background:#9a9a9a;"></div>
<div class="r" style="left:42.20px;top:1257.40px;width:257.80px;height:1.20px;background:#9a9a9a;"></div>
<div class="r" style="left:78.70px;top:1133.60px;width:1.20px;height:136.40px;background:#9a9a9a;"></div>
</div></div>
<div class="r" style="left:17.40px;top:1006.80px;width:258.6px;height:258.6px;border-radius:50%;box-sizing:border-box;border:4.6px solid #c7b070;"></div>
<div class="circ" style="left:342.30px;top:1006.80px;width:258.6px;height:258.6px;">
<div class="in" style="left:-342.30px;top:-1006.80px;width:1222px;height:1387px;">
<div class="r" style="left:300.00px;top:1013.90px;width:320.00px;height:1.20px;background:#a6a6a6;"></div>
<div class="r" style="left:300.00px;top:1045.90px;width:320.00px;height:1.20px;background:#a6a6a6;"></div>
<div class="r" style="left:300.00px;top:1077.30px;width:320.00px;height:1.20px;background:#a6a6a6;"></div>
<div class="r" style="left:405.30px;top:1000.00px;width:1.20px;height:77.90px;background:#a6a6a6;"></div>
<div class="t" style="left:367.60px;top:1100.73px;font-size:23.5px;font-weight:bold;color:#222;letter-spacing:0.6px;">Daily Tracker</div>
<div class="r" style="left:367.90px;top:1141.50px;width:272.10px;height:35.60px;background:#d6d6d6;box-shadow:inset 0 1px 0 #b8b8b8, inset 0 -1px 0 #b8b8b8;"></div>
<div class="t" style="left:376.00px;top:1150.22px;font-size:15px;font-weight:normal;color:#333;">Track expenses, email, voice mail, or other information.</div>
<div class="r" style="left:367.60px;top:1141.50px;width:1.20px;height:158.50px;background:#a6a6a6;"></div>
<div class="r" style="left:367.90px;top:1210.90px;width:272.10px;height:1.20px;background:#a6a6a6;"></div>
<div class="r" style="left:367.90px;top:1246.40px;width:272.10px;height:1.20px;background:#a6a6a6;"></div>
</div></div>
<div class="r" style="left:342.30px;top:1006.80px;width:258.6px;height:258.6px;border-radius:50%;box-sizing:border-box;border:4.6px solid #c7b070;"></div>
<div class="circ" style="left:636.00px;top:1007.40px;width:258.6px;height:258.6px;">
<div class="in" style="left:-636.00px;top:-1007.40px;width:1222px;height:1387px;">
<div class="t" style="left:715.50px;top:1040.27px;font-size:21.8px;font-weight:bold;color:#222;letter-spacing:1.4px;">Appointment Schedule</div>
<div class="r" style="left:663.00px;top:1081.00px;width:257.00px;height:1.20px;background:#b0b0b0;"></div>
<div class="t" style="left:670.50px;top:1100.32px;font-size:17px;font-weight:normal;color:#222;">6</div>
<div class="r" style="left:691.20px;top:1110.90px;width:228.80px;height:1.20px;background:#c8c8c8;"></div>
<div class="r" style="left:663.00px;top:1141.60px;width:257.00px;height:1.20px;background:#b0b0b0;"></div>
<div class="t" style="left:670.50px;top:1162.41px;font-size:17px;font-weight:normal;color:#222;">7</div>
<div class="r" style="left:691.20px;top:1171.60px;width:228.80px;height:1.20px;background:#c8c8c8;"></div>
<div class="r" style="left:663.00px;top:1201.80px;width:257.00px;height:1.20px;background:#b0b0b0;"></div>
<div class="r" style="left:691.20px;top:1232.00px;width:228.80px;height:1.20px;background:#c8c8c8;"></div>
</div></div>
<div class="r" style="left:636.00px;top:1007.40px;width:258.6px;height:258.6px;border-radius:50%;box-sizing:border-box;border:4.6px solid #c7b070;"></div>
<div class="circ" style="left:950.90px;top:1007.40px;width:258.6px;height:258.6px;">
<div class="in" style="left:-950.90px;top:-1007.40px;width:1222px;height:1387px;">
<div class="t" style="left:999.80px;top:1048.60px;font-size:24.2px;font-weight:bold;color:#333;letter-spacing:1.0px;">Notes</div>
<div class="r" style="left:1000.60px;top:1088.40px;width:229.40px;height:1.20px;background:#a0a0a0;"></div>
<div class="r" style="left:1000.60px;top:1133.50px;width:229.40px;height:1.20px;background:#a0a0a0;"></div>
<div class="r" style="left:1000.60px;top:1178.00px;width:229.40px;height:1.20px;background:#a0a0a0;"></div>
<div class="r" style="left:1000.60px;top:1222.60px;width:229.40px;height:1.20px;background:#a0a0a0;"></div>
<div class="r" style="left:1055.20px;top:1089.00px;width:1.20px;height:211.00px;background:#a0a0a0;"></div>
</div></div>
<div class="r" style="left:950.90px;top:1007.40px;width:258.6px;height:258.6px;border-radius:50%;box-sizing:border-box;border:4.6px solid #c7b070;"></div>
<div class="r" style="left:2.90px;top:1284.30px;width:277.00px;height:96.70px;background:#cdb471;border-radius:23px;"></div>
<div class="t" style="left:-55.90px;width:400px;text-align:center;top:1293.78px;font-size:33.5px;font-weight:bold;color:#fffdf6;letter-spacing:1.7px;-webkit-text-stroke:0.7px #fffdf6;">Priority &amp;</div>
<div class="t" style="left:-55.50px;width:400px;text-align:center;top:1330.68px;font-size:33.5px;font-weight:bold;color:#fffdf6;letter-spacing:1.7px;-webkit-text-stroke:0.7px #fffdf6;">Daily Task</div>
<div class="r" style="left:366.00px;top:1284.80px;width:203.00px;height:97.70px;background:#cdb471;border-radius:23px;"></div>
<div class="t" style="left:265.90px;width:400px;text-align:center;top:1296.68px;font-size:33.5px;font-weight:bold;color:#fffdf6;letter-spacing:1.7px;-webkit-text-stroke:0.7px #fffdf6;">Daily</div>
<div class="t" style="left:267.50px;width:400px;text-align:center;top:1333.08px;font-size:33.5px;font-weight:bold;color:#fffdf6;letter-spacing:1.7px;-webkit-text-stroke:0.7px #fffdf6;">Tracker</div>
<div class="r" style="left:659.60px;top:1285.30px;width:203.40px;height:97.70px;background:#cdb471;border-radius:23px;"></div>
<div class="t" style="left:559.90px;width:400px;text-align:center;top:1297.48px;font-size:33.5px;font-weight:bold;color:#fffdf6;letter-spacing:1.7px;-webkit-text-stroke:0.7px #fffdf6;">Daily</div>
<div class="t" style="left:560.00px;width:400px;text-align:center;top:1333.58px;font-size:33.5px;font-weight:bold;color:#fffdf6;letter-spacing:1.7px;-webkit-text-stroke:0.7px #fffdf6;">Schedule</div>
<div class="r" style="left:951.00px;top:1284.30px;width:268.00px;height:96.70px;background:#cdb471;border-radius:23px;"></div>
<div class="t" style="left:890.10px;width:400px;text-align:center;top:1293.78px;font-size:33.5px;font-weight:bold;color:#fffdf6;letter-spacing:1.7px;-webkit-text-stroke:0.7px #fffdf6;">Notes &amp;</div>
<div class="t" style="left:889.90px;width:400px;text-align:center;top:1330.68px;font-size:33.5px;font-weight:bold;color:#fffdf6;letter-spacing:1.7px;-webkit-text-stroke:0.7px #fffdf6;">Progress</div>
</body></html>
